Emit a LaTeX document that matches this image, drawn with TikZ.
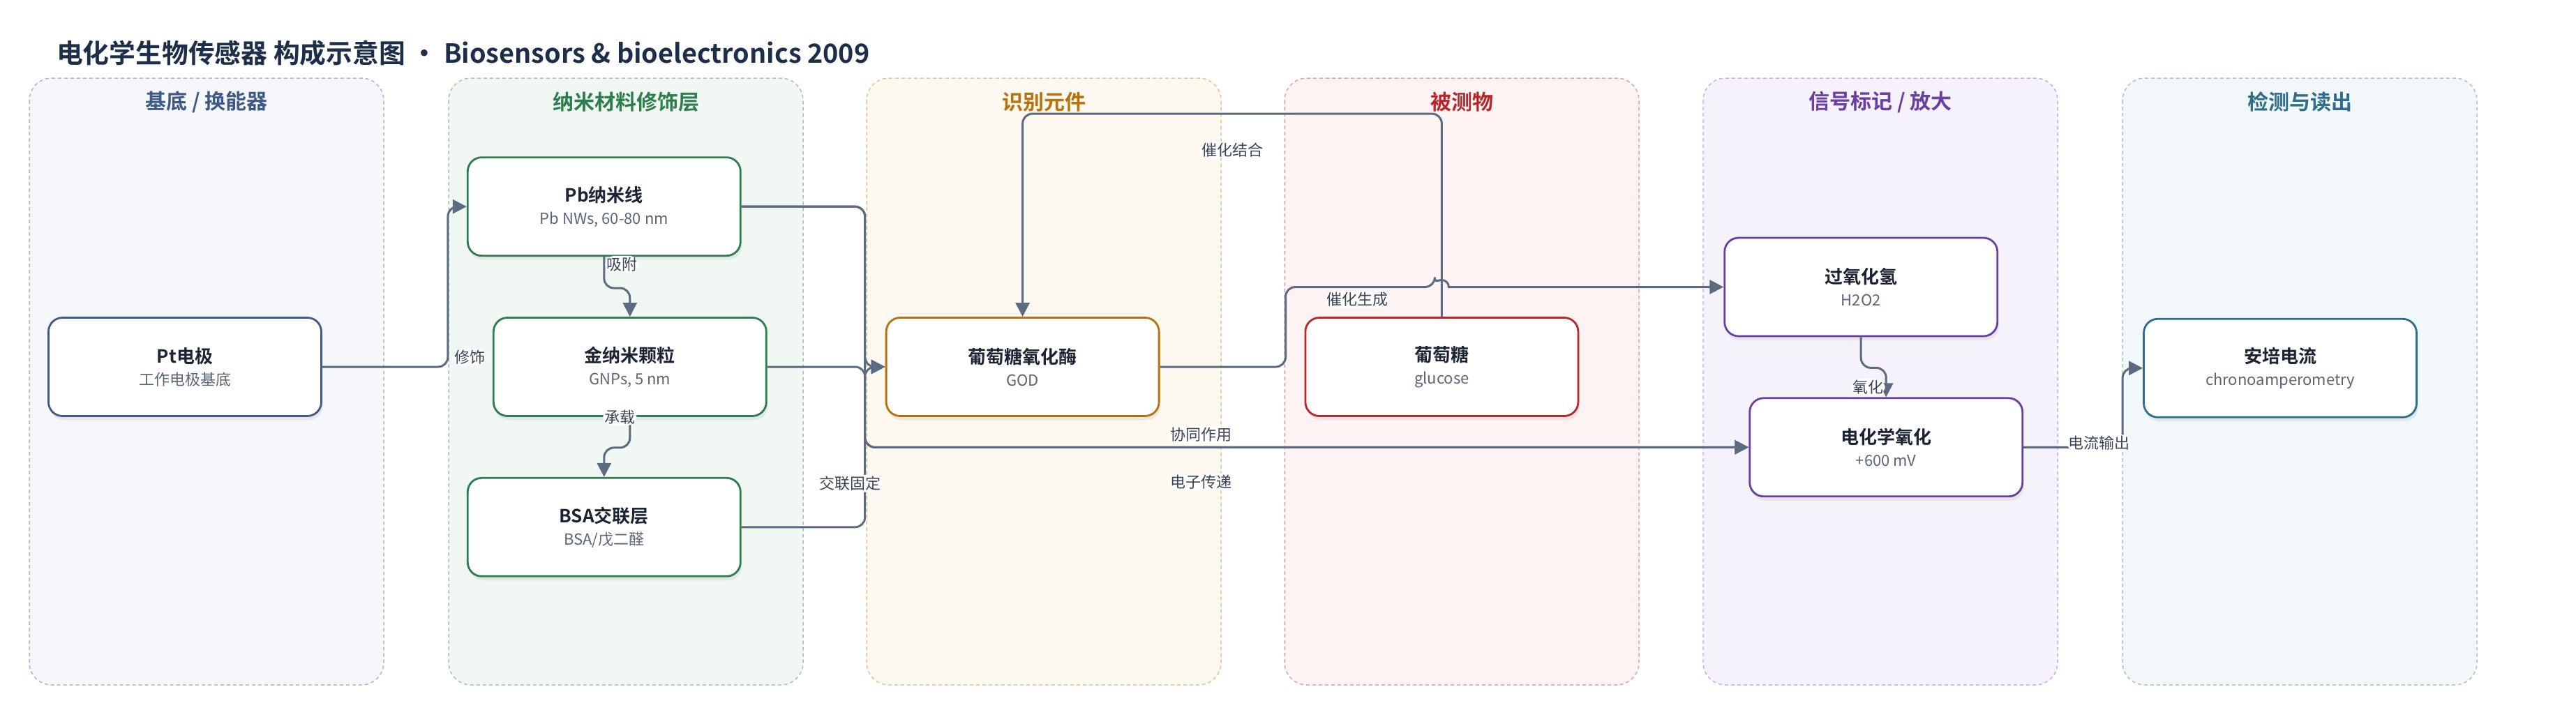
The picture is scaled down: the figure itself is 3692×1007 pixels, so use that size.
\documentclass[tikz,border=0pt]{standalone}
\usepackage{fontspec}
\setmainfont{Noto Sans CJK SC}[BoldFont={* Bold}]
\usepackage{tikz}
\usetikzlibrary{positioning,arrows.meta,calc,shadows}
\usepackage{xcolor}

\definecolor{ink}{HTML}{1B2433}
\definecolor{subink}{HTML}{5A6677}
\definecolor{lblink}{HTML}{3A4556}
\definecolor{edgegray}{HTML}{5B6B80}
\definecolor{titleink}{HTML}{1C2E4A}
\definecolor{cBase}{HTML}{3E5A85}\definecolor{fBase}{HTML}{F5F7FB}\definecolor{bBase}{HTML}{AAB8CD}
\definecolor{cNano}{HTML}{2E7D4F}\definecolor{fNano}{HTML}{F1F8F3}\definecolor{bNano}{HTML}{9DCBAA}
\definecolor{cRec}{HTML}{B8720B}\definecolor{fRec}{HTML}{FDF8F0}\definecolor{bRec}{HTML}{E8C48A}
\definecolor{cAna}{HTML}{B8282B}\definecolor{fAna}{HTML}{FDF3F3}\definecolor{bAna}{HTML}{E3A3A3}
\definecolor{cSig}{HTML}{6A3FA0}\definecolor{fSig}{HTML}{F6F2FB}\definecolor{bSig}{HTML}{C6B1DE}
\definecolor{cDet}{HTML}{2F6E8A}\definecolor{fDet}{HTML}{F2F7F9}\definecolor{bDet}{HTML}{A6C3CF}

\newcommand{\boxhead}[1]{{\color{ink}\fontsize{13}{16}\selectfont\bfseries #1}}

\begin{document}
\begin{tikzpicture}[x=0.5pt,y=-0.5pt,>={Triangle[length=10pt,width=10pt]},font=\fontsize{11}{14}\selectfont]

\tikzstyle{lane}=[rounded corners=16pt,dash pattern=on 2.5pt off 2pt,line width=0.75pt]
\tikzstyle{lanetitle}=[font=\fontsize{15}{18}\selectfont\bfseries]
\tikzstyle{stage}=[draw,fill=white,rounded corners=10pt,line width=1.4pt,minimum width=195.5pt,minimum height=70.5pt,align=center,text=subink,drop shadow={opacity=0.13,shadow xshift=1pt,shadow yshift=-3pt}]
\tikzstyle{wire}=[->,draw=edgegray,line width=1.5pt,rounded corners=7pt]
\tikzstyle{lbl}=[fill=white,text=lblink,inner sep=1pt,font=\fontsize{11}{13}\selectfont]

    \useasboundingbox (0,0) rectangle (3692,1007);

    \node[anchor=west,text=titleink,font=\fontsize{18.9}{23}\selectfont\bfseries] (title) at (74,76) {电化学生物传感器 构成示意图 • Biosensors \& bioelectronics 2009};

    \draw[lane,draw=bBase,fill=fBase] (42,112) rectangle (550,982);
    \draw[lane,draw=bNano,fill=fNano] (643,112) rectangle (1151,982);
    \draw[lane,draw=bRec,fill=fRec] (1242,112) rectangle (1750,982);
    \draw[lane,draw=bAna,fill=fAna] (1841,112) rectangle (2349,982);
    \draw[lane,draw=bSig,fill=fSig] (2441,112) rectangle (2949,982);
    \draw[lane,draw=bDet,fill=fDet] (3042,112) rectangle (3550,982);

    \node[lanetitle,text=cBase] (T1) at (296,146) {基底 / 换能器};
    \node[lanetitle,text=cNano] (T2) at (897,146) {纳米材料修饰层};
    \node[lanetitle,text=cRec] (T3) at (1496,146) {识别元件};
    \node[lanetitle,text=cAna] (T4) at (2095,146) {被测物};
    \node[lanetitle,text=cSig] (T5) at (2695,146) {信号标记 / 放大};
    \node[lanetitle,text=cDet] (T6) at (3296,146) {检测与读出};

    \node[stage,draw=cBase] (Pt) at (265,526) {\boxhead{Pt电极}\\[2pt]工作电极基底};
    \node[stage,draw=cNano,right=122pt of Pt] (Au) {\boxhead{金纳米颗粒}\\[2pt]GNPs, 5 nm};
    \node[stage,draw=cNano,above=43pt of Au,xshift=-18.5pt] (Pb) {\boxhead{Pb纳米线}\\[2pt]Pb NWs, 60-80 nm};
    \node[stage,draw=cNano,below=43pt of Au,xshift=-18.5pt] (BSA) {\boxhead{BSA交联层}\\[2pt]BSA/戊二醛};
    \node[stage,draw=cRec,right=84.5pt of Au] (GOD) {\boxhead{葡萄糖氧化酶}\\[2pt]GOD};
    \node[stage,draw=cAna,right=103.5pt of GOD] (Glu) {\boxhead{葡萄糖}\\[2pt]glucose};
    \node[stage,draw=cSig,right=103.5pt of Glu,yshift=57.25pt] (HO) {\boxhead{过氧化氢}\\[2pt]H2O2};
    \node[stage,draw=cSig,below=43pt of HO,xshift=18pt] (EC) {\boxhead{电化学氧化}\\[2pt]+600 mV};
    \node[stage,draw=cDet,right=85.5pt of EC,yshift=56.75pt] (Amp) {\boxhead{安培电流}\\[2pt]chronoamperometry};

    \coordinate (bus) at ($(GOD.west)+(-29,0)$);
    \coordinate (hop) at ($(Glu.north |- HO.west)+(-10,0)$);

    \draw[wire] (Pt.east) -| node[lbl,pos=0.53,right=3pt]{修饰} ($(Pb.west)+(-27,0)$) -- (Pb.west);
    \draw[wire] (Pb.south) -- node[lbl,pos=0.24,right=0pt]{吸附} ++(0,45) -| (Au.north);
    \draw[wire] (Au.south) -- node[lbl,pos=0,xshift=-7.25pt]{承载} ++(0,44) -| (BSA.north);
    \draw[wire] (Pb.east) -| (bus) -- (GOD.west);
    \draw[wire] (BSA.east) -| node[lbl,pos=0.636,xshift=-10.5pt]{交联固定} (bus) -- (GOD.west);
    \draw[wire] (Au.east) -- (bus) |- node[lbl,pos=0.69,above=2pt]{协同作用} (EC.west);
    \draw[wire] (Pb.east) -| (bus) |- node[lbl,pos=0.69,below=18pt]{电子传递} (EC.west);
    \draw[wire] (Glu.north) -- ++(0,-291) -| node[lbl,pos=0.25,below=19pt]{催化结合} (GOD.north);
    \draw[wire] (GOD.east) -- ++(180,0) |- node[lbl,pos=0.74,below=2pt]{催化生成} (hop) [sharp corners] arc[start angle=180,end angle=360,radius=10] -- (HO.west);
    \draw[wire] (HO.south) -- ++(0,44) -| node[lbl,pos=0.83,left=0pt]{氧化} (EC.north);
    \draw[wire] (EC.east) -| node[lbl,pos=0.38,yshift=3pt]{电流输出} ($(Amp.west)+(-29,0)$) -- (Amp.west);
\end{tikzpicture}
\end{document}
